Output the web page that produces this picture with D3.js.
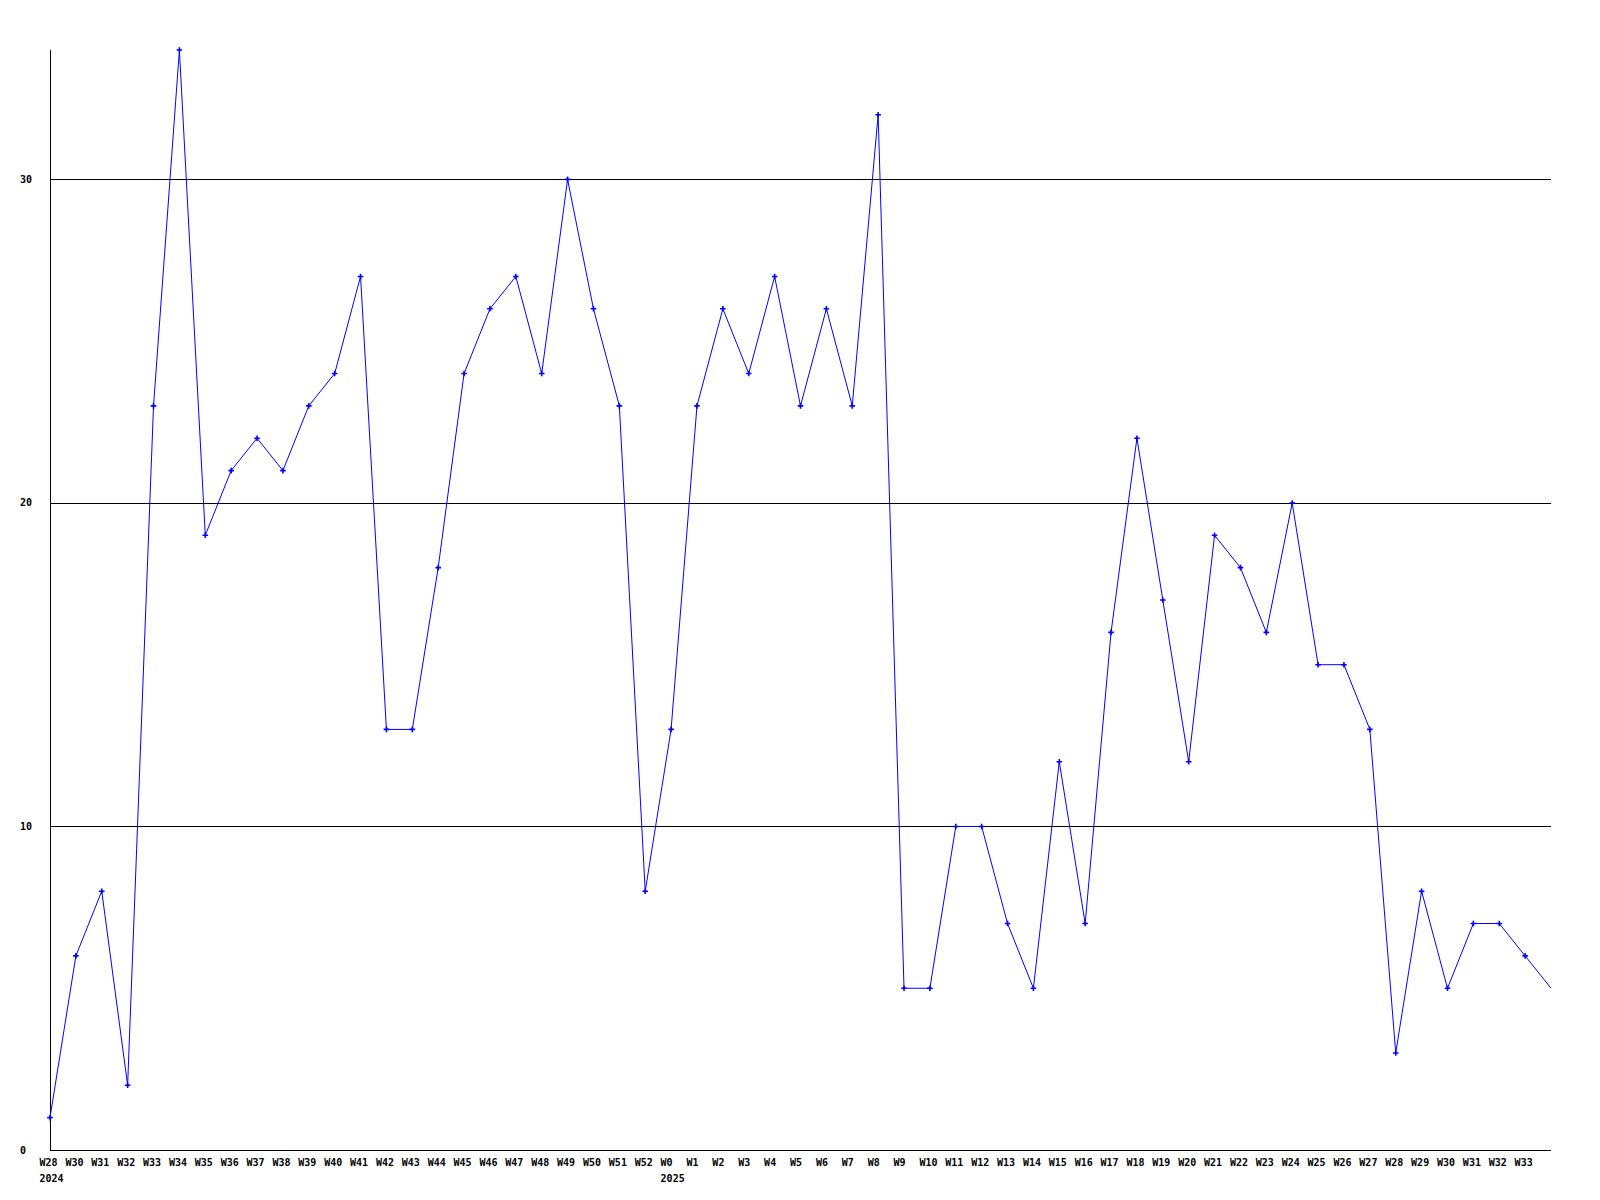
<!DOCTYPE html>
<html>
<head>
<meta charset="utf-8">
<script src="https://cdn.jsdelivr.net/npm/d3@7"></script>
<style>
  html, body { margin: 0; padding: 0; background: #fff; }
  svg { display: block; }
  text { font-family: "DejaVu Sans Mono", "Liberation Mono", monospace; font-weight: bold; font-size: 10px; fill: #000; }
</style>
</head>
<body>
<svg id="chart" width="1600" height="1200"></svg>
<script>
// Week labels (2024 W28..W52, 2025 W0..W33, one trailing unlabeled point)
const weeks = ["W28","W30","W31","W32","W33","W34","W35","W36","W37","W38","W39","W40","W41","W42","W43","W44","W45","W46","W47","W48","W49","W50","W51","W52",
  "W0","W1","W2","W3","W4","W5","W6","W7","W8","W9","W10","W11","W12","W13","W14","W15","W16","W17","W18","W19","W20","W21","W22","W23","W24","W25","W26","W27","W28","W29","W30","W31","W32","W33",""];
const yearLabels = [{index: 0, text: "2024"}, {index: 24, text: "2025"}];
const values = [1,6,8,2,23,34,19,21,22,21,23,24,27,13,13,18,24,26,27,24,30,26,23,8,
  13,23,26,24,27,23,26,23,32,5,5,10,10,7,5,12,7,16,22,17,12,19,18,16,20,15,15,13,3,8,5,7,7,6,5];
const yTicks = [0, 10, 20, 30];
const yMax = 34;

const svg = d3.select("#chart");
const pL = 50, pR = 1551, pT = 50, pB = 1150;

const idx = d3.range(values.length);
const x = d3.scaleLinear().domain([0, values.length - 1]).range([pL, pR]);
const y = d3.scaleLinear().domain([0, yMax]).range([pB, pT]);

// Gridlines
svg.append("g").selectAll("line").data(yTicks.filter(t => t > 0)).join("line")
  .attr("x1", pL).attr("x2", pR)
  .attr("y1", d => Math.round(y(d)) + 0.5).attr("y2", d => Math.round(y(d)) + 0.5)
  .attr("stroke", "#000").attr("shape-rendering", "crispEdges");

// Axes lines
svg.append("line").attr("x1", pL + 0.5).attr("x2", pL + 0.5).attr("y1", pT).attr("y2", pB + 0.5)
  .attr("stroke", "#000").attr("shape-rendering", "crispEdges");
svg.append("line").attr("x1", pL).attr("x2", pR).attr("y1", pB + 0.5).attr("y2", pB + 0.5)
  .attr("stroke", "#000").attr("shape-rendering", "crispEdges");

// Y tick labels
svg.append("g").selectAll("text").data(yTicks).join("text")
  .attr("x", 20).attr("y", d => y(d))
  .attr("dominant-baseline", "central")
  .text(d => d);

// X tick labels (left-aligned slightly left of the point)
svg.append("g").selectAll("text").data(idx.filter(i => weeks[i] !== "")).join("text")
  .attr("x", i => x(i) - 10.5).attr("y", 1166)
  .text(i => weeks[i]);

// Year labels
svg.append("g").selectAll("text").data(yearLabels).join("text")
  .attr("x", d => x(d.index) - 10.5)
  .attr("y", 1182)
  .text(d => d.text);

// Clip (right edge cuts the trailing point)
svg.append("clipPath").attr("id", "plotclip").append("rect")
  .attr("x", pL - 5).attr("y", 0).attr("width", pR - pL + 5).attr("height", pB + 5);

const plot = svg.append("g").attr("clip-path", "url(#plotclip)");

const line = d3.line().x(i => x(i)).y(i => y(values[i]));
plot.append("path").datum(idx).attr("d", line)
  .attr("fill", "none").attr("stroke", "#0000ff").attr("stroke-width", 1);

// Markers (small plus-diamonds)
plot.append("g").selectAll("path").data(idx.slice(0, idx.length - 1)).join("path")
  .attr("transform", i => `translate(${x(i)},${y(values[i])})`)
  .attr("d", "M-0.8,-2.8H0.8V-0.8H2.8V0.8H0.8V2.8H-0.8V0.8H-2.8V-0.8H-0.8Z")
  .attr("fill", "#0000ff");
</script>
</body>
</html>
